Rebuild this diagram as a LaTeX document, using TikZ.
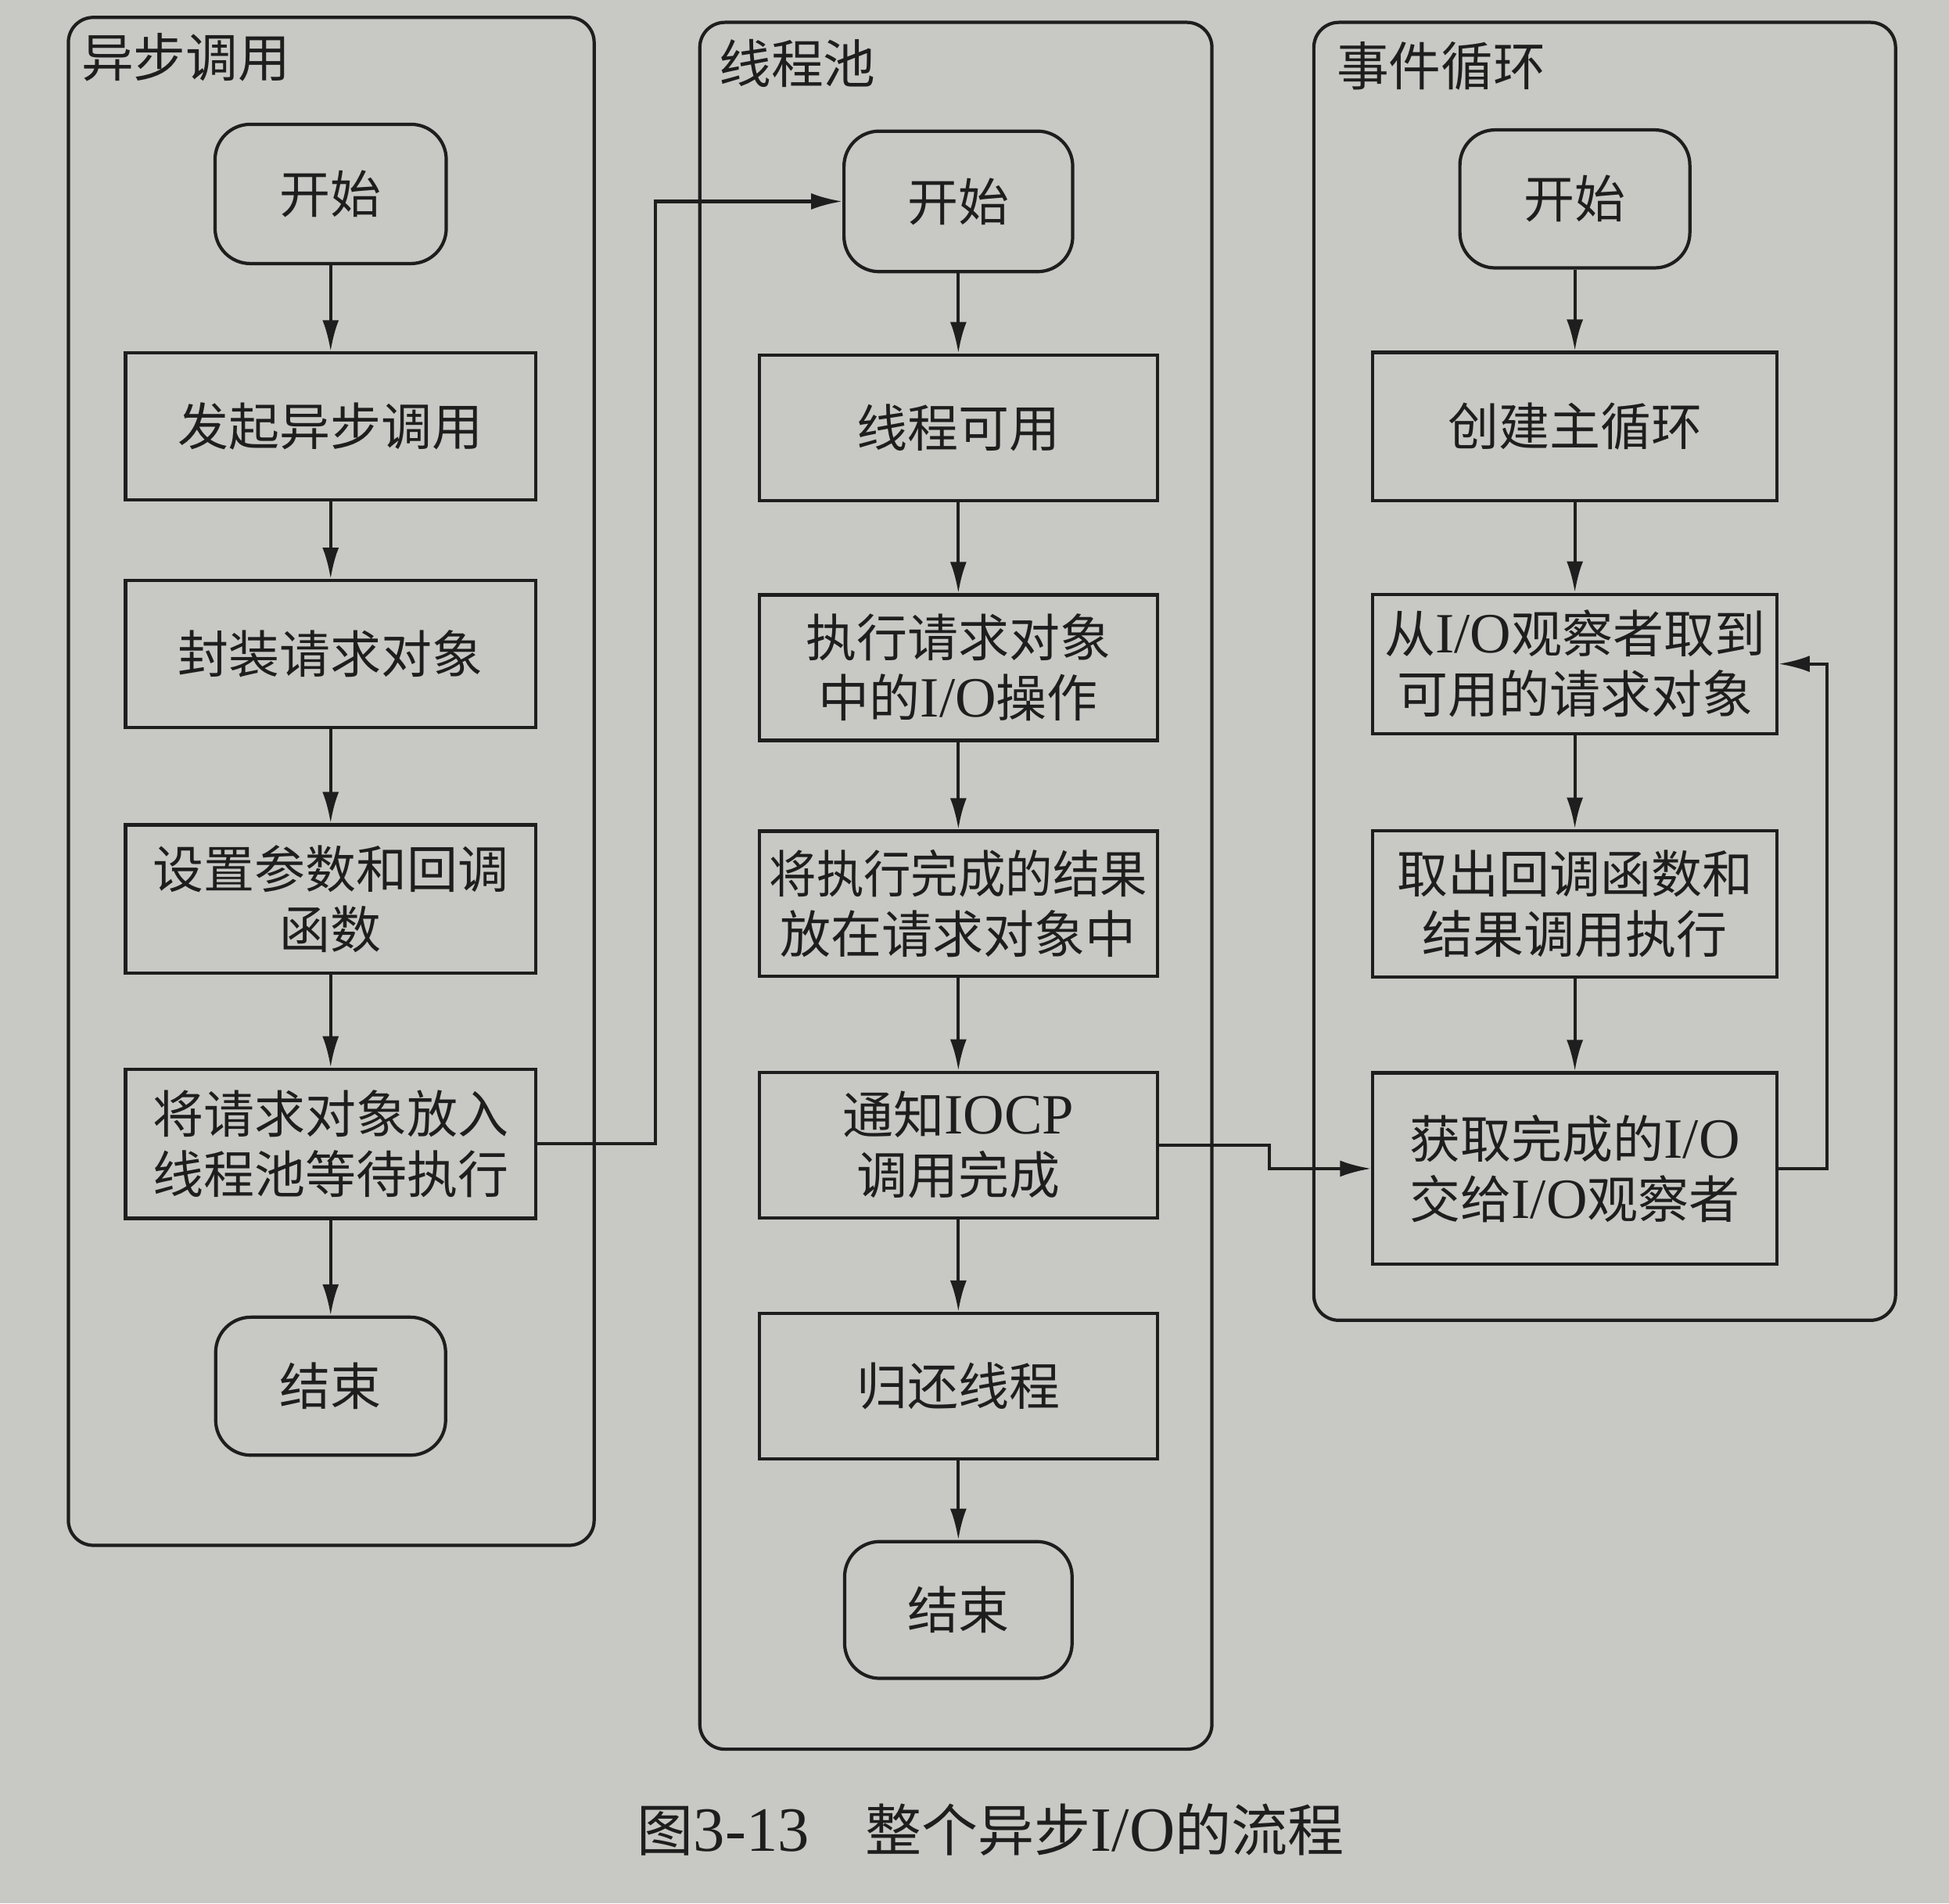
\documentclass[tikz,border=0pt]{standalone}
\usepackage{fontspec}
\setmainfont{Liberation Serif}
\newfontfamily\cjk{Noto Sans CJK SC}
\newfontfamily\latf{Liberation Serif}[Scale=1.12]
\usetikzlibrary{arrows.meta}
\newcommand{\lat}[1]{{\latf #1}}
\definecolor{paper}{RGB}{200,200,196}
\definecolor{ink}{RGB}{30,30,30}
\def\u{0.015893cm}
\begin{document}
\begin{tikzpicture}[x=0.015893cm,y=-0.015893cm,
  panel/.style={draw=ink,line width=1.2pt,rounded corners=0.32cm},
  box/.style={draw=ink,text=ink,line width=1.2pt,align=center,inner sep=0pt,
    font=\cjk\fontsize{18.5}{22}\selectfont,minimum width=325*\u,minimum height=118*\u},
  term/.style={box,rounded corners=0.45cm,minimum width=186*\u,minimum height=112*\u},
  paneltitle/.style={anchor=west,inner sep=0pt,text=ink,font=\cjk\fontsize{19}{22}\selectfont},
  arr/.style={draw=ink,line width=1.2pt,-{Latex[length=0.4cm,width=0.21cm]}}
]
\fill[paper] (0,0) rectangle (1568,1531);
\useasboundingbox (0,0) rectangle (1568,1531);

% panels
\draw[panel] (55,14) rectangle (478,1243);
\draw[panel] (563,18) rectangle (975,1407);
\draw[panel] (1057,18) rectangle (1525,1062);
\node[paneltitle] (t1) at (65,46) {异步调用};
\node[paneltitle] (t2) at (578,51) {线程池};
\node[paneltitle] (t3) at (1075,53) {事件循环};

% column 1
\node[term] (a1) at (266,156) {开始};
\node[box,minimum width=330*\u] (a2) at (266,343) {发起异步调用};
\node[box,minimum width=330*\u] (a3) at (266,526) {封装请求对象};
\node[box,minimum width=330*\u,minimum height=119*\u] (a4) at (266,723) {设置参数和回调\\函数};
\node[box,minimum width=330*\u,minimum height=120*\u] (a5) at (266,920) {将请求对象放入\\线程池等待执行};
\node[term,minimum width=185*\u,minimum height=111*\u] (a6) at (266,1115) {结束};

% column 2
\node[term,minimum width=184*\u,minimum height=113*\u] (b1) at (771,162) {开始};
\node[box,minimum width=320*\u,minimum height=117*\u] (b2) at (771,344) {线程可用};
\node[box,minimum width=320*\u,minimum height=117*\u] (b3) at (771,537) {执行请求对象\\中的\lat{I/O}操作};
\node[box,minimum width=320*\u,minimum height=117*\u] (b4) at (771,727) {\scalebox{0.93}[1]{将执行完成的结果}\\放在请求对象中};
\node[box,minimum width=320*\u,minimum height=117*\u] (b5) at (771,921) {通知\lat{IOCP}\\调用完成};
\node[box,minimum width=320*\u,minimum height=117*\u] (b6) at (771,1115) {归还线程};
\node[term,minimum width=183*\u,minimum height=110*\u] (b7) at (771,1295) {结束};

% column 3
\node[term,minimum width=185*\u,minimum height=111*\u] (c1) at (1267,160) {开始};
\node[box,minimum height=119*\u] (c2) at (1267,343) {创建主循环};
\node[box,minimum height=112*\u] (c3) at (1267,534) {从\lat{I/O}观察者取到\\可用的请求对象};
\node[box,minimum height=118*\u] (c4) at (1267,727) {取出回调函数和\\结果调用执行};
\node[box,minimum height=154*\u] (c5) at (1267,940) {获取完成的\lat{I/O}\\交给\lat{I/O}观察者};

% arrows
\draw[arr] (a1) -- (a2);
\draw[arr] (a2) -- (a3);
\draw[arr] (a3) -- (a4);
\draw[arr] (a4) -- (a5);
\draw[arr] (a5) -- (a6);
\draw[arr] (b1) -- (b2);
\draw[arr] (b2) -- (b3);
\draw[arr] (b3) -- (b4);
\draw[arr] (b4) -- (b5);
\draw[arr] (b5) -- (b6);
\draw[arr] (b6) -- (b7);
\draw[arr] (c1) -- (c2);
\draw[arr] (c2) -- (c3);
\draw[arr] (c3) -- (c4);
\draw[arr] (c4) -- (c5);
\draw[arr] (a5.east) -- ++(95,0) |- (b1.west);
\draw[arr] (b5.east) -- ++(89,0) |- (c5.west);
\draw[arr] (c5.east) -- ++(39,0) |- (c3.east);

% caption
\node[text=ink,inner sep=0pt,font=\cjk\fontsize{20.5}{24}\selectfont] (cap) at (797,1472) {图\lat{3-13}\hspace{1em}整个异步\lat{I/O}的流程};
\end{tikzpicture}
\end{document}
